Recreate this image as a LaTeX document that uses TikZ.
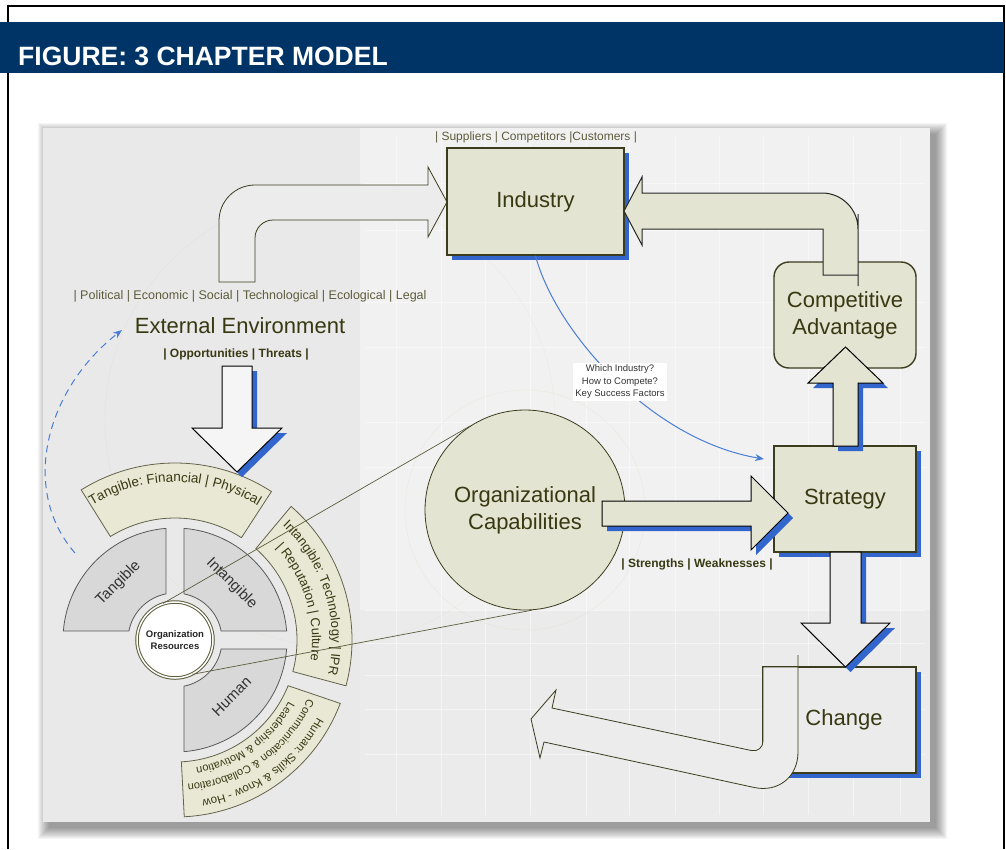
\documentclass[tikz,border=0pt]{standalone}
\usepackage{fontspec}
\setmainfont{Liberation Sans}
\usetikzlibrary{shadows,decorations.text,arrows.meta}
\definecolor{navy}{HTML}{003366}
\definecolor{beige}{HTML}{E4E4D2}
\definecolor{bandfill}{HTML}{E8E8D5}
\definecolor{olivedark}{HTML}{3C3C1E}
\definecolor{olivetext}{HTML}{383812}
\definecolor{olivegray}{HTML}{5C5C3C}
\definecolor{shadowblue}{HTML}{3366CC}
\definecolor{linkblue}{HTML}{4A7DD6}
\definecolor{sectorgray}{HTML}{D8D8D8}
\definecolor{panelleft}{HTML}{E9E9E9}
\definecolor{panelright}{HTML}{F1F1F1}
\definecolor{panellow}{HTML}{EBEBEB}
\definecolor{arrowlight}{HTML}{ECECEC}
\begin{document}
\begin{tikzpicture}[x=1pt,y=-1pt,
  stagebox/.style={draw=olivedark,line width=1.4pt,fill=beige,inner sep=0pt,
    minimum width=142pt,minimum height=106pt,align=center,text=olivetext,
    font=\fontsize{22}{27}\selectfont},
  blueshadow/.style={drop shadow={shadow xshift=5pt,shadow yshift=-5pt,fill=shadowblue,opacity=1}},
  blockarrow/.style={draw=black,line width=1pt,line join=miter},
  bentarrow/.style={draw=olivedark,line width=0.8pt},
  sector/.style={draw=black!65,fill=sectorgray,line width=0.8pt},
  band/.style={draw=olivedark!80,fill=bandfill,line width=0.8pt},
  bandtext/.style={decorate,decoration={text along path,text align=center,
    text color=olivetext,text format delimiters={<}{>}}},
  sectorlabel/.style={text=black!80,font=\fontsize{15}{15}\selectfont,inner sep=1pt},
  hub/.style={circle,minimum size=76pt,inner sep=0pt,fill=white,draw=olivegray,
    line width=1pt,double=white,double distance=1.5pt,align=center,
    font=\fontsize{9.5}{12}\selectfont\bfseries,text=black!85},
  tieline/.style={draw=olivegray,line width=0.7pt},
  smalltag/.style={text=olivegray,font=\fontsize{12}{14}\selectfont},
  boldtag/.style={text=olivetext,font=\fontsize{12}{14}\selectfont\bfseries},
  linkarrow/.style={draw=linkblue,line width=1pt,-{Stealth[length=9pt,width=7pt]}},
]
\useasboundingbox (0,0) rectangle (1006,849);
% frame and title bar
\draw[line width=1.2pt] (8,849) -- (8,6) -- (1004,6) -- (1004,849);
\fill[navy] (0,22) rectangle (1004,73);
\node[anchor=base west,inner sep=0pt,text=white,font=\fontsize{26.5}{30}\selectfont\bfseries] (title) at (18,65) {FIGURE: 3 CHAPTER MODEL};

% panel and its soft shadow
\foreach \s in {1,...,12}
  \fill[black,opacity=0.04] (37+\s,122+\s) rectangle (948-\s,840-\s);
\fill[panelleft] (43,128) rectangle (930,822);
\fill[panelright] (360,128) rectangle (930,610);
\fill[panellow] (360,610) rectangle (930,822);
\foreach \gx in {396,441,485,530,586,629,675,719,763,808,853,900}
  \draw[white,line width=0.6pt,opacity=0.45] (\gx,135) -- (\gx,815);
\foreach \gy in {183,230,302,347,422,467,610,643,675,709,754}
  \draw[white,line width=0.6pt,opacity=0.45] (365,\gy) -- (925,\gy);
\draw[yellow!40!gray,opacity=0.15] (525,510) circle (120);
\draw[yellow!40!gray,opacity=0.12] (330,420) circle (225);

% industry and competitive advantage
\draw[bentarrow,fill=arrowlight] (219,282) -- (219,230) [rounded corners=36] -- (219,185) -- (330,185) [sharp corners] -- (428,185) -- (428,167) -- (447,202) -- (428,237) -- (428,220) -- (330,220) [rounded corners=18] -- (255,220) -- (255,260) [sharp corners] -- (255,282) -- cycle;
\node[stagebox,blueshadow,minimum width=177pt,minimum height=107pt] (industry) at (535.5,201.5) {Industry};
\node[stagebox,rounded corners=15pt] (compadv) at (845,315) {Competitive\\Advantage};
\draw[bentarrow,fill=beige,draw=black!85,line width=1pt] (624,211) -- (642,177) -- (642,193) -- (760,193) [rounded corners=36] -- (858,193) -- (858,250) [sharp corners] -- (858,275) -- (823,275) -- (823,229) -- (642,229) -- (642,245) -- cycle;

% question link
\coordinate (sttip) at (764,459);
\draw[linkarrow] (industry.south) .. controls (555,330) and (650,440) .. (sttip);
\node[fill=white,inner sep=2pt,align=center,text=black!80,font=\fontsize{9.5}{12.5}\selectfont] (keyq) at (620,382) {Which Industry?\\How to Compete?\\Key Success Factors};

% capabilities, strategy, change
\node[circle,draw=olivedark,line width=0.8pt,fill=beige,minimum size=200pt,inner sep=0pt,align=center,text=olivetext,font=\fontsize{22}{27}\selectfont] (orgcap) at (525,510) {Organizational\\Capabilities};
\node[stagebox,blueshadow] (strategy) at (845,499) {Strategy};
\node[stagebox,blueshadow,fill=panellow,minimum width=153pt] (change) at (839.5,720) {\hspace*{9pt}Change};
\draw[bentarrow,fill=arrowlight] (763,667) -- (763,700) [rounded corners=12] -- (763,753) -- (660,731) [sharp corners] -- (552,708) -- (556,690) -- (531,719) -- (540,758) -- (544,742) -- (660,767) [rounded corners=45] -- (798,797) -- (798,700) [sharp corners] -- (798,667) -- cycle;
\draw[blockarrow,fill=beige,blueshadow] (602,501) -- (751,501) -- (751,476) -- (788,513) -- (751,550) -- (751,526) -- (602,526) -- cycle;
\draw[blockarrow,fill=beige,blueshadow] (833,446) -- (833,383) -- (808,383) -- (845.5,347) -- (883,383) -- (858,383) -- (858,446) -- cycle;
\draw[blockarrow,fill=arrowlight,blueshadow] (830,552) -- (830,623) -- (801,623) -- (845.5,667) -- (890,623) -- (861,623) -- (861,552) -- cycle;

% resource wheel
\begin{scope}[shift={(175,640)},y=1pt]
  \path[sector] (94.6:112) arc[start angle=94.6,end angle=175.4,radius=112] -- (169:47) arc[start angle=169,end angle=101,radius=47] -- cycle;
  \path[sector] (4.6:112) arc[start angle=4.6,end angle=85.4,radius=112] -- (79:47) arc[start angle=79,end angle=11,radius=47] -- cycle;
  \path[sector] (-85.4:112) arc[start angle=-85.4,end angle=-4.6,radius=112] -- (-11:47) arc[start angle=-11,end angle=-79,radius=47] -- cycle;
  \node[sectorlabel,rotate=45] (tanglabel) at (135:80) {Tangible};
  \node[sectorlabel,rotate=-45] (intlabel) at (45:80) {Intangible};
  \node[sectorlabel,rotate=45] (humlabel) at (-45:80) {Human};
  \path[band] (57:177) arc[start angle=57,end angle=122,radius=177] -- (122:122) arc[start angle=122,end angle=57,radius=122] -- cycle;
  \path[band] (-15:177) arc[start angle=-15,end angle=49,radius=177] -- (48.5:122) arc[start angle=48.5,end angle=-15,radius=122] -- cycle;
  \path[band] (-87:177) arc[start angle=-87,end angle=-21,radius=177] -- (-22:122) arc[start angle=-22,end angle=-87,radius=122] -- cycle;
  \path[bandtext,decoration={text={<\fontsize{13.5}{14}\selectfont>Tangible: Financial | Physical}}] (124:158) arc[start angle=124,end angle=56,radius=158];
  \path[bandtext,decoration={text={<\fontsize{13}{14}\selectfont>Intangible: Technology | IPR}}] (52:157) arc[start angle=52,end angle=-18,radius=157];
  \path[bandtext,decoration={text={<\fontsize{13}{14}\selectfont>| Reputation | Culture}}] (52:137) arc[start angle=52,end angle=-18,radius=137];
  \path[bandtext,decoration={text={<\fontsize{11.5}{12}\selectfont>Human: Skills {\&} Know - How}}] (-20:162) arc[start angle=-20,end angle=-89,radius=162];
  \path[bandtext,decoration={text={<\fontsize{11}{12}\selectfont>Communication {\&} Collaboration}}] (-20:145) arc[start angle=-20,end angle=-89,radius=145];
  \path[bandtext,decoration={text={<\fontsize{11}{12}\selectfont>Leadership {\&} Motivation}}] (-20:129) arc[start angle=-20,end angle=-89,radius=129];
  \node[hub] (orgres) at (0,0) {Organization\\Resources};
\end{scope}
\draw[tieline] (orgres.108) -- (orgcap.123);
\draw[tieline] (orgres.-63) -- (orgcap.-86);

% environment labels and arrows
\node[smalltag] (sources) at (536,137) {| Suppliers | Competitors |Customers |};
\node[smalltag,font=\fontsize{12.5}{14}\selectfont] (pestel) at (250,296) {| Political | Economic | Social | Technological | Ecological | Legal};
\node[text=olivetext,font=\fontsize{22}{26}\selectfont] (extenv) at (240,326) {External Environment};
\node[boldtag] (opthreat) at (236,354) {| Opportunities | Threats |};
\node[boldtag] (strweak) at (697,564) {| Strengths | Weaknesses |};
\draw[blockarrow,fill=white!96!black,blueshadow] (222,366) -- (252,366) -- (252,428) -- (282,428) -- (237,472) -- (192,428) -- (222,428) -- cycle;
\coordinate (loopstart) at (75,553);
\coordinate (envtip) at (122,330);
\draw[linkarrow,dash pattern=on 7pt off 5pt] (loopstart) .. controls (20,490) and (45,390) .. (envtip);
\end{tikzpicture}
\end{document}
